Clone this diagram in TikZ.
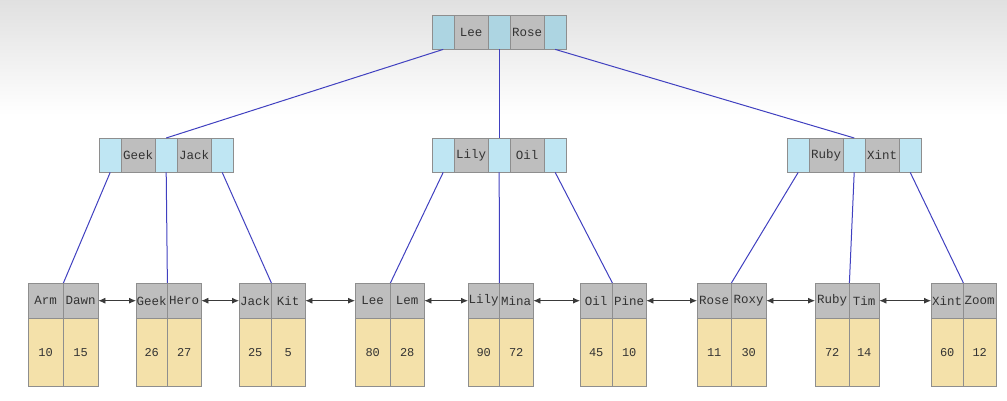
\documentclass[tikz,border=0pt]{standalone}
\usepackage{fontspec}
\setmonofont{Liberation Mono}
\usetikzlibrary{arrows.meta,positioning}
\definecolor{ptrblue}{HTML}{BFE6F3}
\definecolor{rootblue}{HTML}{ADD5E2}
\definecolor{keygray}{HTML}{BEBEBE}
\definecolor{datayellow}{HTML}{F4E1AA}
\definecolor{cellline}{HTML}{8E8E8E}
\definecolor{linkblue}{HTML}{4040C0}
\definecolor{arrowgray}{HTML}{3A3A3A}
\tikzset{ptrcell/.style={draw=cellline,fill=ptrblue,minimum width=22pt,minimum height=34pt,inner sep=0pt,anchor=north west},keycell/.style={draw=cellline,fill=keygray,minimum width=34pt,minimum height=34pt,inner sep=0pt,anchor=north west,font=\ttfamily\fontsize{12.5}{14}\selectfont,text=black!80},leafkey/.style={draw=cellline,fill=keygray,minimum height=35pt,inner sep=0pt,anchor=north west,font=\ttfamily\fontsize{12.5}{14}\selectfont,text=black!80},leafdata/.style={draw=cellline,fill=datayellow,minimum height=68pt,inner sep=0pt,anchor=north west,font=\ttfamily\fontsize{12}{14}\selectfont,text=black!80},treeline/.style={draw=linkblue,line width=1pt},leaflink/.style={draw=arrowgray,line width=.8pt,{Latex[length=7pt,width=6pt]}-{Latex[length=7pt,width=6pt]}}}

\begin{document}
\begin{tikzpicture}[x=1pt,y=-1pt]
\useasboundingbox (0,0) rectangle (1007,401);
\fill[top color=black!12,bottom color=white] (0,0) rectangle (1007,115);
% root
\node[ptrcell,fill=rootblue] (r1) at (432,15) {};
\node[keycell] (rk1) at (454,15) {Lee};
\node[ptrcell,fill=rootblue] (r2) at (488,15) {};
\node[keycell] (rk2) at (510,15) {Rose};
\node[ptrcell,fill=rootblue] (r3) at (544,15) {};
% internal nodes
\node[ptrcell] (a1) at (99,138) {};
\node[keycell] (ak1) at (121,138) {Geek};
\node[ptrcell] (a2) at (155,138) {};
\node[keycell] (ak2) at (177,138) {Jack};
\node[ptrcell] (a3) at (211,138) {};
\node[ptrcell] (b1) at (432,138) {};
\node[keycell] (bk1) at (454,138) {Lily};
\node[ptrcell] (b2) at (488,138) {};
\node[keycell] (bk2) at (510,138) {Oil};
\node[ptrcell] (b3) at (544,138) {};
\node[ptrcell] (c1) at (787,138) {};
\node[keycell] (ck1) at (809,138) {Ruby};
\node[ptrcell] (c2) at (843,138) {};
\node[keycell] (ck2) at (865,138) {Xint};
\node[ptrcell] (c3) at (899,138) {};
% leaves
\foreach \l/\m/\r/\ka/\kb/\da/\db/\i in {28/63/98/Arm/Dawn/10/15/1,136/167/201/Geek/Hero/26/27/2,239/271/305/Jack/Kit/25/5/3,355/390/424/Lee/Lem/80/28/4,468/499/533/Lily/Mina/90/72/5,580/612/646/Oil/Pine/45/10/6,697/731/766/Rose/Roxy/11/30/7,815/849/879/Ruby/Tim/72/14/8,931/963/996/Xint/Zoom/60/12/9}{
  \pgfmathsetmacro\wa{\m-\l}
  \pgfmathsetmacro\wb{\r-\m}
  \node[leafkey,minimum width=\wa pt] (la\i) at (\l,283) {\ka};
  \node[leafkey,minimum width=\wb pt] (lb\i) at (\m,283) {\kb};
  \node[leafdata,minimum width=\wa pt] (da\i) at (\l,318) {\da};
  \node[leafdata,minimum width=\wb pt] (db\i) at (\m,318) {\db};
}
\foreach \i in {1,...,8}{
  \pgfmathtruncatemacro\j{\i+1}
  \draw[leaflink] (lb\i.east) -- (la\j.west);
}
% links
\draw[treeline] (r1.south) -- (a2.north);
\draw[treeline] (r2.south) -- (b2.north);
\draw[treeline] (r3.south) -- (c2.north);
\draw[treeline] (a1.south) -- (la1.north east);
\draw[treeline] (a2.south) -- (la2.north east);
\draw[treeline] (a3.south) -- (la3.north east);
\draw[treeline] (b1.south) -- (la4.north east);
\draw[treeline] (b2.south) -- (la5.north east);
\draw[treeline] (b3.south) -- (la6.north east);
\draw[treeline] (c1.south) -- (la7.north east);
\draw[treeline] (c2.south) -- (la8.north east);
\draw[treeline] (c3.south) -- (la9.north east);
\end{tikzpicture}
\end{document}
